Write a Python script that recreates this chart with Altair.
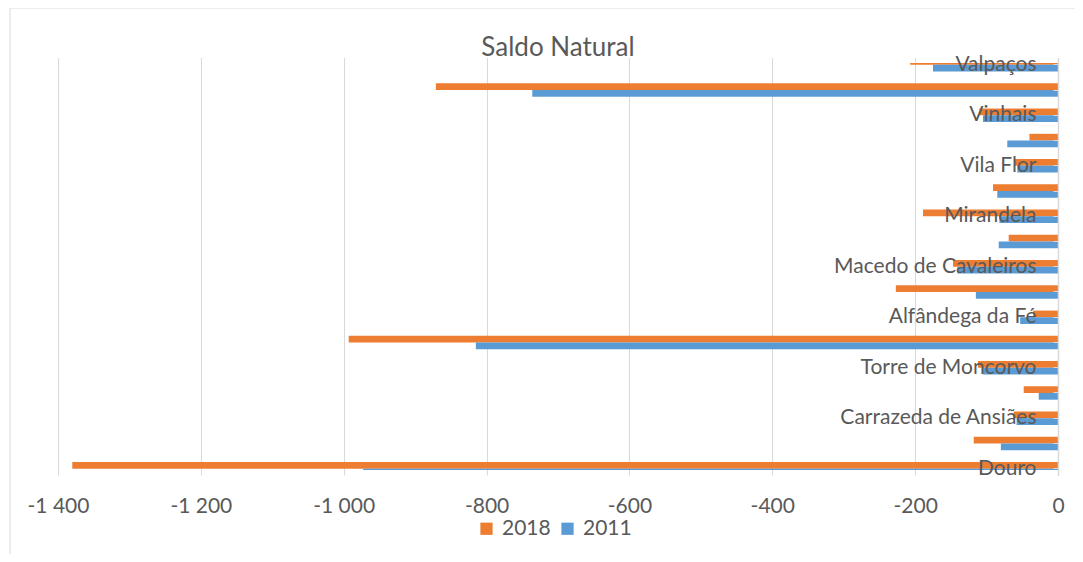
import altair as alt
import pandas as pd

# Categories in Excel order (bottom to top)
categories = ["Douro", "Alijó", "Carrazeda de Ansiães", "Freixo de Espada à Cinta",
              "Torre de Moncorvo", "Terras de Trás-os-Montes", "Alfândega da Fé",
              "Bragança", "Macedo de Cavaleiros", "Miranda do Douro", "Mirandela",
              "Mogadouro", "Vila Flor", "Vimioso", "Vinhais", "Alto Tâmega", "Valpaços"]
values_2018 = [-1380, -118, -62, -48, -112, -993, -35, -227, -147, -69, -189, -91, -60, -40, -110, -871, -207]
values_2011 = [-973, -80, -58, -27, -105, -815, -53, -115, -141, -83, -82, -85, -57, -71, -105, -736, -175]
labeled = ["Douro", "Carrazeda de Ansiães", "Torre de Moncorvo", "Alfândega da Fé",
           "Macedo de Cavaleiros", "Mirandela", "Vila Flor", "Vinhais", "Valpaços"]
series = ["2018", "2011"]
colors = ["#ED7D31", "#5B9BD5"]
x_ticks = [-1400, -1200, -1000, -800, -600, -400, -200, 0]

rows = []
for c, a, b in zip(categories, values_2018, values_2011):
    rows.append({"cat": c, "ano": "2018", "v": a})
    rows.append({"cat": c, "ano": "2011", "v": b})
df = pd.DataFrame(rows)

FONT = "Lato"
GRAY = "#595959"
LINE = "#d9d9d9"
FS = 21
W, H = 1000, 407

top_down = list(reversed(categories))
label_list = "[" + ",".join("'" + s + "'" for s in labeled) + "]"

bars = alt.Chart(df).mark_bar(clip=True).encode(
    x=alt.X("v:Q",
            scale=alt.Scale(domain=[-1400, 0], nice=False, zero=False),
            axis=alt.Axis(values=x_ticks, title=None, grid=True, gridColor=LINE,
                          gridWidth=1, domain=False, ticks=False, labelPadding=25,
                          labelFlush=False, labelOverlap=False,
                          labelFont=FONT, labelFontSize=FS, labelColor=GRAY,
                          labelExpr="replace(replace(format(datum.value, ','), ',', ' '), '−', '-')")),
    y=alt.Y("cat:N",
            scale=alt.Scale(domain=top_down, range=[-4.94, 412.44],
                            paddingInner=0.47, paddingOuter=0),
            axis=alt.Axis(orient="left", offset=-W, title=None, domainColor=LINE,
                          domainWidth=1.5, tickColor=LINE, tickSize=5, labelPadding=17,
                          labelFont=FONT, labelFontSize=FS, labelColor=GRAY,
                          labelAlign="right", labelLimit=500, labelOverlap=False, zindex=1,
                          labelExpr="indexof(" + label_list + ", datum.value) >= 0 ? datum.value : ''")),
    yOffset=alt.YOffset("ano:N", scale=alt.Scale(domain=series, paddingInner=0, paddingOuter=0)),
    color=alt.Color("ano:N",
                    scale=alt.Scale(domain=series, range=colors),
                    legend=alt.Legend(orient="none", legendX=418, legendY=455,
                                      direction="horizontal", title=None,
                                      symbolType="square", symbolSize=150,
                                      symbolStrokeWidth=0, labelFont=FONT,
                                      labelFontSize=FS, labelColor=GRAY,
                                      columnPadding=6, labelOffset=5)),
)

frame = alt.Chart(pd.DataFrame({"a": [0]})).mark_rect(
    fill=None, stroke=LINE, strokeWidth=1, clip=False
).encode(x=alt.value(-48), x2=alt.value(1019), y=alt.value(-55), y2=alt.value(520))

chart = alt.layer(frame, bars).properties(
    width=W, height=H,
    title=alt.Title("Saldo Natural", font=FONT, fontSize=26, fontWeight="normal",
                    color=GRAY, anchor="middle", offset=6, dy=59),
    autosize=alt.AutoSizeParams(type="none"),
    padding={"left": 50, "top": 55, "right": 17, "bottom": 84},
).configure_view(stroke=None)

chart.save("out.html", embed_options={"renderer": "svg", "actions": False})
